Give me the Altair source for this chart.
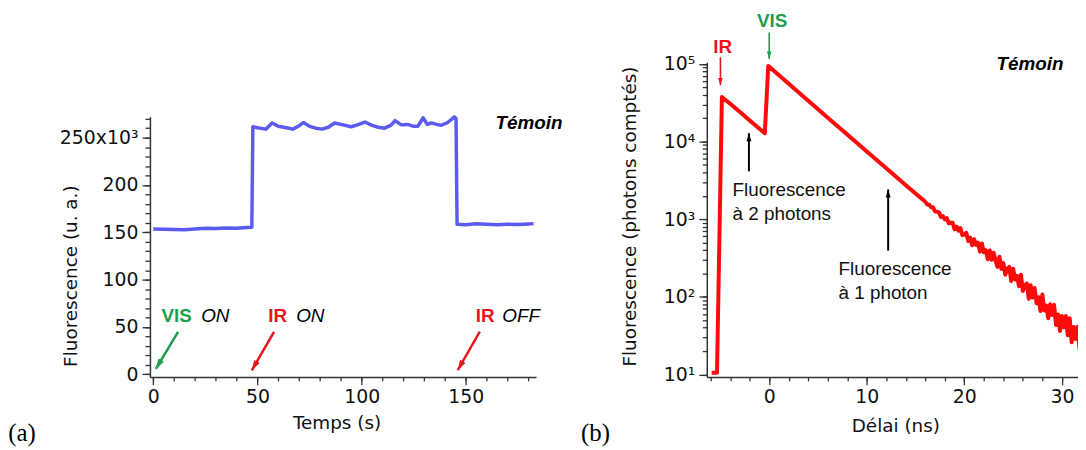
import altair as alt
import pandas as pd

# ---------------- panel (a) : fluorescence vs time ----------------
a_time = [0, 5, 10, 15, 20, 25, 30, 35, 40, 45, 47.3, 47.8, 50, 54, 57, 60, 64, 67, 70, 72,
          75, 78, 81, 84, 87, 90, 95, 98, 101.5, 105, 108, 111, 114, 116, 119, 122, 125, 127,
          129.5, 131.5, 133.5, 135, 138, 141, 144.5, 145.3, 145.8, 150, 155, 160, 165, 170,
          175, 180, 182.5]
a_fluo = [153.5, 153.2, 153.0, 152.8, 153.6, 154.4, 154.0, 154.6, 154.2, 155.0, 155.4, 261.5,
          260.5, 259.0, 265.5, 262.0, 260.5, 259.0, 262.5, 266.0, 262.0, 260.0, 259.0, 261.0,
          265.5, 264.0, 261.5, 263.5, 266.5, 263.0, 261.0, 260.0, 263.0, 268.0, 263.5, 264.0,
          262.0, 262.0, 271.0, 264.0, 265.5, 264.5, 263.0, 265.5, 272.0, 270.0, 158.5, 158.0,
          159.0, 158.5, 158.0, 158.5, 158.2, 158.8, 159.2]
a_xmajor = [0, 50, 100, 150]
a_xminor = list(range(0, 181, 10))
a_ymajor = [0, 50, 100, 150, 200, 250]
a_yminor = list(range(0, 271, 10))

# annotations of panel (a), in data coordinates
a_bold_text = ["VIS", "IR", "IR"]
a_bold_x = [3.97, 55.2, 154.8]
a_bold_y = [62.0, 62.0, 62.0]
a_bold_col = ["#1f9d4f", "#e8141c", "#e8141c"]
a_ital_text = ["ON", "ON", "OFF"]
a_ital_x = [23.0, 68.6, 167.5]
a_ital_y = [62.0, 62.0, 62.0]
a_arr_x = [11.9, 57.95, 156.7]
a_arr_y = [44.9, 44.9, 45.2]
a_arr_x2 = [1.26, 47.3, 146.1]
a_arr_y2 = [5.7, 4.3, 4.3]
a_arr_col = ["#1f9d4f", "#e8141c", "#e8141c"]
a_arr_ang = [210.8, 210.0, 209.8]

# ---------------- panel (b) : decay, log scale ----------------
b_time = [-5.9, -5.35, -4.85, -4.0, -3.0, -2.0, -1.0, -0.45, -0.1, 0, 2, 4, 6, 8, 10, 12, 14,
          16.0, 16.2, 16.4, 16.6, 16.8, 17.0, 17.2, 17.4, 17.6, 17.8,
          18.0, 18.2, 18.4, 18.6, 18.8, 19.0, 19.2, 19.4, 19.6, 19.8,
          20.0, 20.2, 20.4, 20.6, 20.8, 21.0, 21.2, 21.4, 21.6, 21.8,
          22.0, 22.2, 22.4, 22.6, 22.8, 23.0, 23.2, 23.4, 23.6, 23.8,
          24.0, 24.2, 24.4, 24.6, 24.8, 25.0, 25.2, 25.4, 25.6, 25.8,
          26.0, 26.2, 26.4, 26.6, 26.8, 27.0, 27.2, 27.4, 27.6, 27.8,
          28.0, 28.2, 28.4, 28.6, 28.8, 29.0, 29.2, 29.4, 29.6, 29.8,
          30.0, 30.2, 30.4, 30.6, 30.8, 31.0, 31.2, 31.4, 31.6, 31.8, 32.0]
b_counts = [10.5, 10.5, 37500, 30700, 23970, 18710, 14620, 12770, 94000, 91600, 55500, 33600,
            20300, 12300, 7450, 4510, 2730,
            1671, 1548, 1534, 1426, 1421, 1256, 1247, 1224, 1070, 1098,
            993, 1034, 885, 899, 899, 738, 801, 709, 768, 622,
            631, 668, 523, 578, 461, 551, 465, 498, 382, 486,
            374, 398, 305, 396, 300, 369, 292, 243, 329, 229,
            272, 193, 230, 243, 160, 230, 167, 186, 137, 193,
            119, 140, 149, 94.6, 141, 97.7, 130, 82.3, 98.9, 65.5,
            107, 66.8, 77.0, 53.1, 80.0, 58.1, 78.7, 43.3, 59.1, 36.2,
            56.5, 40.4, 56.5, 32.0, 53.1, 26.0, 40.8, 28.6, 41.1, 21.7, 31.3]
b_xmajor = [0, 10, 20, 30]
b_xminor = list(range(-6, 31, 2))
b_ymajor = [10, 100, 1000, 10000, 100000]
b_yminor = [m * 10 ** e for e in range(1, 5) for m in range(1, 10)] + [100000]

b_bold_text = ["IR", "VIS"]
b_bold_x = [-4.77, 0.30]
b_bold_y = [166600, 358000]
b_bold_col = ["#e8141c", "#1f9d4f"]
b_note_text = ["Fluorescence", "à 2 photons", "Fluorescence", "à 1 photon"]
b_note_x = [-3.76, -3.76, 7.10, 7.10]
b_note_y = [2363, 1156, 229, 112]
b_arr_x = [-5.0, 0.0, -2.08, 12.19]
b_arr_y = [121600, 253600, 4130, 393]
b_arr_x2 = [-5.0, 0.0, -2.08, 12.19]
b_arr_y2 = [52900, 115900, 12790, 2410]
b_arr_col = ["#e8141c", "#1f9d4f", "#000000", "#000000"]
b_arr_ang = [180, 180, 0, 0]

BLUE = "#5b5bf2"
LINE_RED = "#ff0a0a"
AX_FONT = "DejaVu Sans"
AN_FONT = "Liberation Sans"
LAB_FONT = "Liberation Serif"
HEAD = "M0,0L-0.55,1.8L0.55,1.8Z"

sx_a = alt.Scale(domain=[-1.6, 183.7], nice=False, zero=False)
sy_a = alt.Scale(domain=[-2.7, 272], range=[317, 55], nice=False, zero=False)
sx_b = alt.Scale(domain=[-6.4, 31.65], nice=False, zero=False)
sy_b = alt.Scale(type="log", domain=[9.3, 105000], nice=False)

# major axes (labels + long ticks)
ax_xa = alt.Axis(values=a_xmajor, tickSize=8, labelPadding=3, title="Temps (s)", orient="bottom",
                 titleX=188, titleY=46, titleAlign="center", titleBaseline="middle")
ax_ya = alt.Axis(values=a_ymajor, orient="left",
                 labelExpr="datum.value === 250 ? '250x10³' : datum.label",
                 tickSize=8, labelPadding=4, title="Fluorescence (u. a.)",
                 titleX=-80, titleY=215, titleAngle=270, titleAlign="center",
                 titleBaseline="middle")
ax_xb = alt.Axis(values=b_xmajor, tickSize=8, labelPadding=3, title="Délai (ns)", orient="bottom",
                 titleX=190, titleY=49, titleAlign="center", titleBaseline="middle")
ax_yb = alt.Axis(values=b_ymajor, orient="left",
                 labelExpr="'10' + ['⁰','¹','²','³','⁴','⁵','⁶'][round(log(datum.value)/LN10)]",
                 tickSize=8, labelPadding=4, title="Fluorescence (photons comptés)",
                 titleX=-78, titleY=155, titleAngle=270, titleAlign="center",
                 titleBaseline="middle")


# minor axes (short ticks only)
def minor(vals, orient, size):
    return alt.Axis(values=vals, orient=orient, tickSize=size, labels=False, domain=False,
                    title=None)


mx_a = minor(a_xminor, "bottom", 4)
my_a = minor(a_yminor, "left", 5)
mx_b = minor(b_xminor, "bottom", 4)
my_b = minor(b_yminor, "left", 4.5)


def X(sc, ax=None, field="x:Q"):
    return alt.X(field, scale=sc, axis=ax)


def Y(sc, ax=None, field="y:Q"):
    return alt.Y(field, scale=sc, axis=ax)


# ---------- panel (a) layers ----------
a_line = alt.Chart(pd.DataFrame({"x": a_time, "y": a_fluo})).mark_line(
    color=BLUE, strokeWidth=3.5, strokeJoin="round").encode(x=X(sx_a, ax_xa), y=Y(sy_a, ax_ya))

a_arrows_df = pd.DataFrame({"x": a_arr_x, "y": a_arr_y, "x2": a_arr_x2, "y2": a_arr_y2,
                            "c": a_arr_col, "ang": a_arr_ang})
a_rules = alt.Chart(a_arrows_df).mark_rule(strokeWidth=2.5).encode(
    x=X(sx_a, mx_a), y=Y(sy_a, my_a), x2="x2:Q", y2="y2:Q",
    color=alt.Color("c:N", scale=None))
a_heads = alt.Chart(a_arrows_df).mark_point(shape=HEAD, filled=True, size=130, opacity=1,
                                            strokeWidth=0).encode(
    x=X(sx_a, field="x2:Q"), y=Y(sy_a, field="y2:Q"),
    angle=alt.Angle("ang:Q", scale=None), color=alt.Color("c:N", scale=None))

a_bold = alt.Chart(pd.DataFrame({"x": a_bold_x, "y": a_bold_y, "t": a_bold_text,
                                 "c": a_bold_col})).mark_text(
    font=AN_FONT, fontSize=19, fontWeight="bold", align="left", baseline="middle").encode(
    x=X(sx_a), y=Y(sy_a), text="t:N", color=alt.Color("c:N", scale=None))
a_ital = alt.Chart(pd.DataFrame({"x": a_ital_x, "y": a_ital_y, "t": a_ital_text})).mark_text(
    font=AN_FONT, fontSize=19, fontStyle="italic", align="left", baseline="middle",
    color="#000").encode(x=X(sx_a), y=Y(sy_a), text="t:N")
a_temoin = alt.Chart(pd.DataFrame({"x": [164.2], "y": [265.1], "t": ["Témoin"]})).mark_text(
    font=AN_FONT, fontSize=19, fontStyle="italic", fontWeight="bold", align="left",
    baseline="middle", color="#000").encode(x=X(sx_a), y=Y(sy_a), text="t:N")
a_tag = alt.Chart(pd.DataFrame({"x": [-69.6], "y": [-62.4], "t": ["(a)"]})).mark_text(
    font=LAB_FONT, fontSize=25, align="left", baseline="middle", color="#000").encode(
    x=X(sx_a), y=Y(sy_a), text="t:N")

left = alt.layer(a_line, a_rules, a_heads, a_bold, a_ital, a_temoin, a_tag).resolve_axis(
    x="independent", y="independent").properties(width=389, height=317)

# ---------- panel (b) layers ----------
b_line = alt.Chart(pd.DataFrame({"x": b_time, "y": b_counts})).mark_line(
    color=LINE_RED, strokeWidth=4, strokeJoin="round", clip=True).encode(
    x=X(sx_b, ax_xb), y=Y(sy_b, ax_yb))

b_arrows_df = pd.DataFrame({"x": b_arr_x, "y": b_arr_y, "x2": b_arr_x2, "y2": b_arr_y2,
                            "c": b_arr_col, "ang": b_arr_ang,
                            "w": [1.6, 1.6, 2.0, 2.0], "s": [70, 70, 80, 80]})
b_rules = alt.Chart(b_arrows_df).mark_rule().encode(
    x=X(sx_b, mx_b), y=Y(sy_b, my_b), x2="x2:Q", y2="y2:Q",
    color=alt.Color("c:N", scale=None), strokeWidth=alt.StrokeWidth("w:Q", scale=None))
b_heads = alt.Chart(b_arrows_df).mark_point(shape=HEAD, filled=True, opacity=1,
                                            strokeWidth=0).encode(
    x=X(sx_b, field="x2:Q"), y=Y(sy_b, field="y2:Q"),
    angle=alt.Angle("ang:Q", scale=None), color=alt.Color("c:N", scale=None),
    size=alt.Size("s:Q", scale=None))

b_bold = alt.Chart(pd.DataFrame({"x": b_bold_x, "y": b_bold_y, "t": b_bold_text,
                                 "c": b_bold_col})).mark_text(
    font=AN_FONT, fontSize=19, fontWeight="bold", align="center", baseline="middle").encode(
    x=X(sx_b), y=Y(sy_b), text="t:N", color=alt.Color("c:N", scale=None))
b_note = alt.Chart(pd.DataFrame({"x": b_note_x, "y": b_note_y, "t": b_note_text})).mark_text(
    font=AN_FONT, fontSize=19, align="left", baseline="middle", color="#111").encode(
    x=X(sx_b), y=Y(sy_b), text="t:N")
b_temoin = alt.Chart(pd.DataFrame({"x": [23.3], "y": [98200], "t": ["Témoin"]})).mark_text(
    font=AN_FONT, fontSize=19, fontStyle="italic", fontWeight="bold", align="left",
    baseline="middle", color="#000").encode(x=X(sx_b), y=Y(sy_b), text="t:N")
b_tag = alt.Chart(pd.DataFrame({"x": [-19.29], "y": [1.74], "t": ["(b)"]})).mark_text(
    font=LAB_FONT, fontSize=25, align="left", baseline="middle", color="#000").encode(
    x=X(sx_b), y=Y(sy_b), text="t:N")

right = alt.layer(b_line, b_rules, b_heads, b_bold, b_note, b_temoin, b_tag).resolve_axis(
    x="independent", y="independent").properties(width=374, height=317)

chart = alt.hconcat(left, right, spacing=18).properties(
    padding={"left": 0, "top": 2, "right": 0, "bottom": 0}
).configure_view(stroke=None).configure_axis(
    grid=False, domainColor="#333", domainWidth=1.5, tickColor="#333", tickWidth=1.3,
    labelFont=AX_FONT, labelFontSize=19, labelColor="#111", titleFont=AX_FONT,
    titleFontSize=18.5, titleFontWeight="normal", titleColor="#111",
    labelOverlap=False, labelFlush=False
)

chart.save("out.html", embed_options={"renderer": "svg", "actions": False})
